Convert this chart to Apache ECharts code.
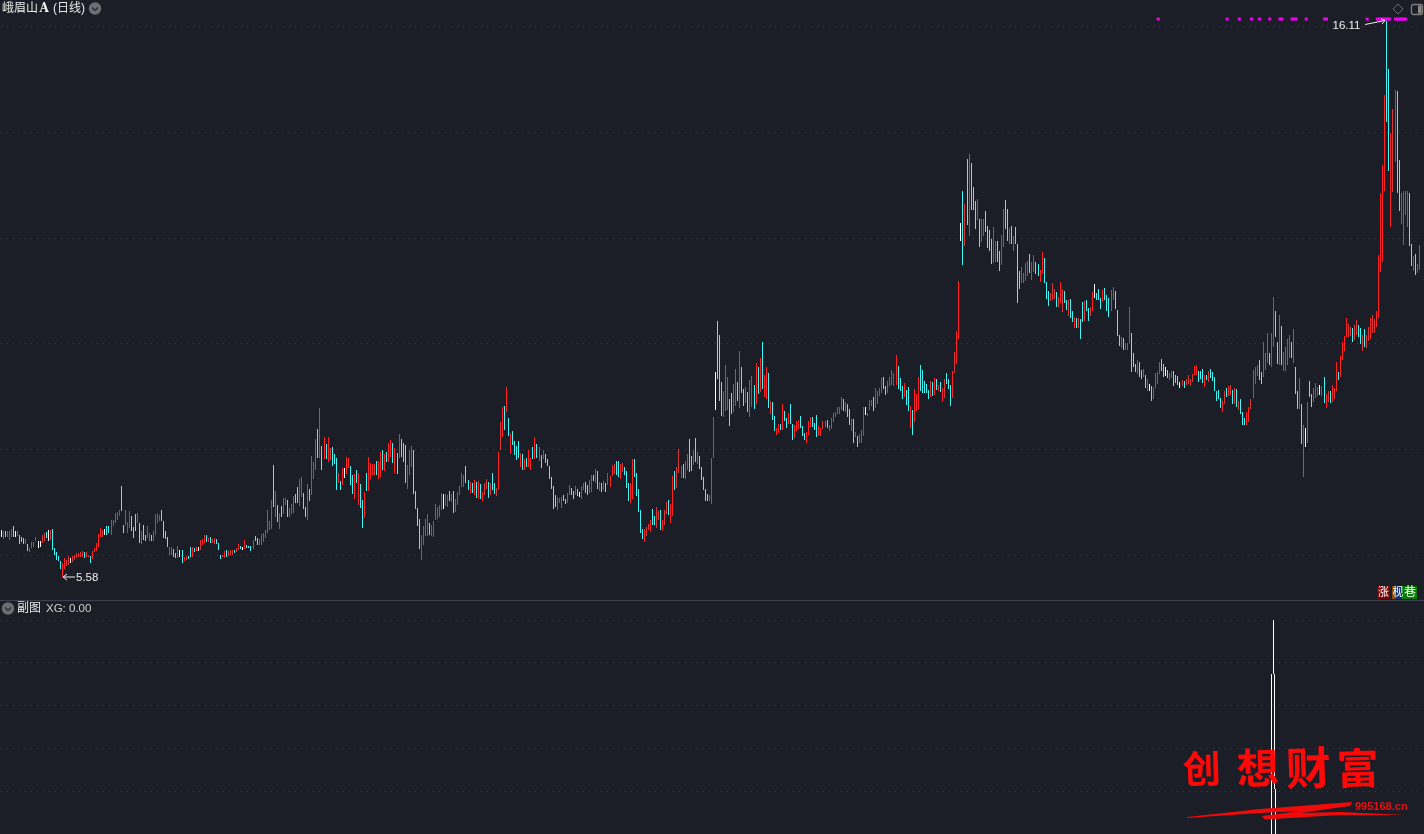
<!DOCTYPE html>
<html><head><meta charset="utf-8">
<style>html,body{margin:0;padding:0;background:#1b1e26;overflow:hidden}#c{width:1424px;height:834px}</style>
<script src="https://cdn.jsdelivr.net/npm/echarts@6/dist/echarts.min.js"></script>
</head><body><div id="c"></div>
<script>
// [high, low, kind]  kind: r strong rise, d rise, c fall, w flat
const seg1=[[6.48,6.34,'w'],[6.45,6.31,'d'],[6.45,6.34,'c'],[6.45,6.35,'d'],[6.46,6.28,'d'],[6.49,6.35,'d'],[6.54,6.35,'c'],[6.45,6.34,'w'],[6.45,6.36,'d'],[6.37,6.21,'c'],[6.35,6.24,'c'],[6.32,6.21,'c'],[6.30,6.20,'d'],[6.21,6.07,'c'],[6.13,6.05,'d'],[6.25,6.14,'d'],[6.25,6.16,'d'],[6.35,6.26,'d'],[6.26,6.13,'w'],[6.26,6.16,'w'],[6.38,6.23,'d'],[6.42,6.26,'d'],[6.43,6.32,'c'],[6.48,6.27,'w'],[6.48,6.29,'d'],[6.50,6.10,'c'],[6.13,6.01,'c'],[6.05,5.91,'c'],[5.99,5.89,'c'],[5.88,5.74,'c'],[5.85,5.58,'r'],[5.95,5.74,'r'],[5.91,5.80,'d'],[5.99,5.82,'d'],[5.94,5.85,'w'],[5.99,5.86,'d'],[6.01,5.91,'d'],[6.03,5.94,'r'],[6.03,5.96,'d'],[6.05,5.96,'d'],[6.08,5.96,'d'],[6.05,5.94,'c'],[6.05,5.96,'d'],[6.01,5.96,'d'],[5.99,5.84,'c'],[6.07,5.92,'r'],[6.14,6.05,'r'],[6.23,6.07,'r'],[6.40,6.16,'r'],[6.51,6.34,'r'],[6.48,6.35,'d'],[6.49,6.38,'w'],[6.54,6.38,'c'],[6.54,6.42,'c'],[6.67,6.38,'d'],[6.67,6.54,'d'],[6.79,6.60,'d'],[6.81,6.67,'r'],[6.86,6.74,'r'],[7.31,6.83,'c'],[6.57,6.42,'c'],[6.86,6.57,'d'],[6.62,6.42,'r'],[6.83,6.51,'r'],[6.73,6.45,'c'],[6.53,6.32,'c'],[6.77,6.45,'c'],[6.79,6.60,'d'],[6.60,6.23,'c'],[6.45,6.21,'d'],[6.57,6.28,'c'],[6.38,6.26,'c'],[6.55,6.32,'d'],[6.42,6.26,'d'],[6.38,6.26,'c'],[6.45,6.26,'d'],[6.77,6.38,'r'],[6.79,6.60,'r'],[6.76,6.64,'d'],[6.86,6.64,'c'],[6.64,6.32,'c'],[6.46,6.30,'c'],[6.35,6.16,'c'],[6.15,6.00,'r'],[6.15,6.00,'d'],[6.11,5.97,'c'],[6.03,5.94,'c'],[6.18,5.94,'d'],[6.09,5.96,'w'],[6.10,5.84,'c'],[5.96,5.89,'r'],[5.99,5.90,'d'],[5.99,5.93,'c'],[6.16,5.96,'c'],[6.15,5.96,'r'],[6.13,6.05,'c'],[6.15,6.08,'r'],[6.16,6.08,'w'],[6.29,6.10,'d'],[6.30,6.19,'r'],[6.37,6.23,'r'],[6.37,6.24,'c'],[6.32,6.24,'d'],[6.34,6.23,'c'],[6.30,6.23,'d'],[6.32,6.21,'d'],[6.30,6.21,'c'],[6.23,6.09,'c'],[6.01,5.93,'c'],[6.01,5.96,'d'],[6.07,5.95,'r'],[6.09,5.97,'c'],[6.08,5.99,'d'],[6.09,6.01,'d'],[6.09,6.01,'d'],[6.10,6.03,'c'],[6.14,6.05,'d'],[6.21,6.10,'r']];
const seg2=[[6.17,6.11,'c'],[6.16,6.09,'w'],[6.28,6.11,'r'],[6.19,6.13,'c'],[6.18,6.13,'c'],[6.17,6.08,'c'],[6.28,6.11,'d'],[6.36,6.26,'c'],[6.32,6.19,'c'],[6.30,6.19,'d'],[6.40,6.19,'d'],[6.41,6.25,'d'],[6.47,6.33,'d'],[6.85,6.41,'d'],[6.65,6.47,'d'],[7.04,6.50,'d'],[7.70,6.91,'c'],[7.21,6.72,'d'],[6.95,6.63,'c'],[6.79,6.50,'d'],[6.93,6.72,'c'],[7.08,6.77,'d'],[7.08,6.95,'d'],[7.04,6.72,'c'],[6.89,6.71,'d'],[6.96,6.77,'d'],[7.12,6.79,'d'],[7.15,6.98,'c'],[7.28,6.99,'c'],[7.44,6.93,'d'],[7.47,7.10,'d'],[7.18,6.88,'c'],[6.91,6.71,'c'],[7.34,6.66,'d'],[7.25,7.03,'c'],[7.87,7.13,'d'],[7.76,7.44,'d'],[8.19,7.61,'d'],[8.38,7.83,'c'],[8.78,7.83,'d'],[8.06,7.61,'c'],[8.23,7.81,'r'],[8.10,7.81,'c'],[8.23,7.76,'r'],[8.02,7.80,'d'],[8.04,7.68,'c'],[7.91,7.72,'c'],[7.83,7.23,'c'],[7.55,7.36,'d'],[7.40,7.23,'c'],[7.64,7.32,'r'],[7.64,7.46,'w'],[7.85,7.53,'r'],[7.83,7.64,'r'],[7.68,7.32,'c'],[7.51,7.15,'c'],[7.53,7.06,'r'],[7.61,7.36,'c'],[7.55,6.95,'r'],[7.34,6.89,'c'],[7.04,6.51,'c'],[7.19,6.70,'r'],[7.55,7.21,'c'],[7.85,7.21,'r'],[7.74,7.44,'r'],[7.72,7.51,'r'],[7.72,7.51,'d'],[7.78,7.51,'c'],[7.78,7.44,'r'],[7.95,7.47,'r'],[7.98,7.61,'c'],[7.91,7.59,'r'],[7.95,7.76,'c'],[8.12,7.76,'r'],[8.17,7.85,'r'],[8.12,7.74,'c'],[8.02,7.55,'r'],[7.93,7.53,'c'],[8.29,7.83,'d'],[8.19,7.85,'c'],[8.12,7.76,'c'],[8.08,7.36,'c'],[7.70,7.25,'d'],[7.98,7.51,'d'],[8.06,7.66,'d'],[7.98,7.15,'c'],[7.21,6.87,'c'],[6.89,6.55,'c'],[6.68,6.11,'c'],[6.38,5.91,'d'],[6.55,6.19,'d'],[6.68,6.36,'d'],[6.77,6.36,'d'],[6.60,6.38,'c'],[6.57,6.36,'d'],[6.64,6.34,'d'],[6.96,6.66,'d'],[6.91,6.68,'d'],[6.95,6.72,'d'],[7.17,6.85,'d'],[7.15,6.87,'w'],[7.15,6.93,'r'],[7.13,6.91,'d'],[7.21,7.02,'c'],[7.15,7.00,'d'],[7.21,6.79,'c'],[7.06,6.81,'d'],[7.19,6.95,'d'],[7.30,7.13,'d'],[7.55,7.29,'d'],[7.51,7.29,'d'],[7.68,7.36,'c'],[7.42,7.23,'c'],[7.38,7.17,'r'],[7.36,7.17,'c'],[7.42,7.13,'r'],[7.38,7.08,'c'],[7.40,7.06,'r']];
const seg3=[[7.34,7.06,'c'],[7.19,7.02,'r'],[7.36,7.14,'d'],[7.44,7.25,'d'],[7.38,7.08,'c'],[7.36,7.14,'d'],[7.55,7.23,'c'],[7.36,7.16,'c'],[7.27,7.12,'d'],[7.95,7.23,'r'],[8.52,7.99,'d'],[8.80,8.23,'r'],[8.82,8.37,'c'],[9.18,8.71,'r'],[8.59,8.25,'c'],[8.31,7.91,'r'],[8.35,8.08,'c'],[8.16,7.89,'c'],[8.06,7.80,'c'],[8.16,7.84,'c'],[7.93,7.67,'r'],[7.91,7.61,'c'],[7.82,7.61,'r'],[7.84,7.67,'c'],[7.99,7.67,'r'],[7.84,7.61,'r'],[8.04,7.82,'c'],[8.23,7.82,'r'],[8.10,7.84,'c'],[8.04,7.78,'d'],[7.89,7.65,'c'],[7.99,7.82,'d'],[7.91,7.74,'c'],[7.82,7.69,'c'],[7.69,7.44,'c'],[7.48,7.25,'c'],[7.31,6.87,'c'],[7.14,6.91,'c'],[7.10,6.85,'d'],[7.08,6.99,'d'],[7.10,6.89,'d'],[7.14,7.02,'c'],[7.06,6.97,'c'],[7.17,6.99,'d'],[7.33,7.14,'d'],[7.27,7.14,'c'],[7.21,7.06,'c'],[7.31,7.14,'d'],[7.25,7.12,'c'],[7.19,7.10,'w'],[7.31,7.06,'d'],[7.36,7.23,'d'],[7.38,7.17,'c'],[7.33,7.14,'c'],[7.42,7.17,'d'],[7.51,7.19,'d'],[7.51,7.40,'c'],[7.63,7.36,'d'],[7.59,7.25,'c'],[7.38,7.21,'d'],[7.36,7.19,'c'],[7.40,7.23,'d'],[7.36,7.19,'c'],[7.55,7.33,'r'],[7.50,7.29,'r'],[7.70,7.50,'r'],[7.72,7.53,'d'],[7.78,7.51,'c'],[7.78,7.48,'c'],[7.72,7.44,'r'],[7.74,7.57,'d'],[7.67,7.51,'c'],[7.59,7.27,'c'],[7.36,7.02,'c'],[7.36,6.99,'r'],[7.82,7.06,'r'],[7.82,7.48,'c'],[7.55,7.12,'c'],[7.25,6.82,'c'],[6.85,6.42,'c'],[6.49,6.31,'c'],[6.49,6.25,'r'],[6.53,6.36,'d'],[6.59,6.48,'d'],[6.66,6.44,'r'],[6.87,6.57,'c'],[6.74,6.57,'c'],[6.91,6.51,'d'],[6.83,6.66,'d'],[6.85,6.48,'c'],[6.66,6.46,'r'],[6.85,6.57,'d'],[7.00,6.78,'d'],[7.04,6.76,'c'],[6.97,6.61,'r'],[7.50,6.74,'r'],[7.59,7.23,'c'],[7.67,7.27,'d'],[8.01,7.55,'d'],[7.69,7.46,'d'],[7.72,7.46,'c'],[7.78,7.44,'d'],[7.91,7.61,'d'],[8.20,7.57,'c'],[7.87,7.59,'c'],[7.99,7.70,'d'],[8.21,7.76,'c'],[7.95,7.72,'d'],[7.87,7.63,'c'],[7.67,7.42,'c'],[7.48,7.23,'c'],[7.25,7.02,'c'],[7.16,7.02,'c'],[7.14,7.02,'d']];
const seg4=[[7.83,6.96,'d'],[8.61,7.83,'d'],[9.46,8.74,'w'],[10.42,9.33,'c'],[10.16,8.91,'c'],[9.27,8.63,'c'],[9.10,8.61,'d'],[9.59,8.72,'d'],[9.36,8.74,'d'],[8.95,8.44,'c'],[9.06,8.66,'c'],[9.23,8.70,'d'],[9.51,8.82,'d'],[9.27,8.91,'c'],[9.86,8.78,'d'],[9.55,9.06,'c'],[9.14,8.82,'c'],[9.17,8.87,'d'],[9.08,8.70,'c'],[9.31,8.61,'d'],[9.38,8.80,'d'],[9.21,8.76,'c'],[9.63,8.85,'r'],[9.55,9.04,'c'],[9.72,9.08,'r'],[10.03,9.14,'c'],[9.40,8.99,'r'],[9.55,8.95,'r'],[9.44,8.78,'c'],[8.91,8.66,'r'],[8.89,8.55,'c'],[8.63,8.34,'c'],[8.40,8.27,'r'],[8.48,8.31,'r'],[8.48,8.36,'c'],[8.85,8.36,'r'],[8.72,8.53,'c'],[8.59,8.40,'c'],[8.68,8.48,'r'],[8.85,8.48,'c'],[8.48,8.17,'c'],[8.46,8.21,'r'],[8.53,8.34,'r'],[8.55,8.38,'r'],[8.63,8.40,'c'],[8.44,8.25,'c'],[8.31,8.17,'c'],[8.32,8.12,'r'],[8.53,8.27,'r'],[8.61,8.42,'r'],[8.61,8.42,'c'],[8.49,8.36,'c'],[8.65,8.23,'c'],[8.44,8.25,'r'],[8.40,8.25,'r'],[8.53,8.38,'d'],[8.53,8.42,'d'],[8.55,8.40,'c'],[8.46,8.34,'d'],[8.59,8.38,'d'],[8.68,8.51,'d'],[8.70,8.61,'d'],[8.80,8.66,'d'],[8.80,8.66,'d'],[8.99,8.74,'d'],[8.95,8.72,'c'],[8.89,8.70,'d'],[8.85,8.61,'c'],[8.76,8.46,'c'],[8.57,8.34,'d'],[8.57,8.12,'c'],[8.32,8.23,'d'],[8.25,8.04,'c'],[8.29,8.12,'r'],[8.36,8.12,'d'],[8.80,8.25,'r'],[8.80,8.65,'w'],[8.68,8.63,'d'],[8.93,8.74,'d'],[8.93,8.82,'d'],[8.99,8.72,'c'],[9.16,8.78,'r'],[9.10,8.85,'d'],[9.16,9.00,'d'],[9.34,9.06,'d'],[9.36,9.14,'c'],[9.19,9.02,'c'],[9.29,9.06,'d'],[9.36,9.19,'d'],[9.50,9.21,'d'],[9.44,9.19,'r'],[9.78,9.21,'r'],[9.57,9.14,'c'],[9.34,9.10,'c'],[9.19,8.95,'c'],[9.25,8.99,'r'],[9.12,8.83,'c'],[9.17,8.72,'c'],[8.82,8.40,'r'],[8.74,8.27,'c'],[9.14,8.51,'r'],[9.04,8.72,'r'],[9.36,8.76,'r'],[9.59,9.10,'c'],[9.50,9.06,'c'],[9.29,9.06,'c'],[9.23,9.06,'c'],[9.12,8.95,'c'],[9.29,8.99,'d'],[9.27,9.00,'c'],[9.34,9.02,'r'],[9.33,9.12,'c'],[9.21,9.10,'d'],[9.27,9.08,'c'],[9.16,8.89,'r'],[9.33,8.97,'d'],[9.44,9.23,'c'],[9.33,9.14,'c'],[9.21,8.82,'c'],[9.48,8.97,'r'],[9.84,9.44,'d'],[10.23,9.61,'r'],[11.18,10.08,'r']];
const seg5=[[12.29,11.95,'w'],[12.88,11.48,'c'],[12.65,11.84,'d'],[13.50,12.25,'c'],[13.58,12.03,'d'],[13.42,12.52,'c'],[12.97,12.52,'c'],[12.69,12.16,'c'],[12.74,12.33,'d'],[12.35,11.82,'c'],[12.35,11.93,'d'],[12.35,12.03,'d'],[12.50,12.12,'c'],[12.23,11.80,'c'],[12.14,11.76,'c'],[11.97,11.50,'c'],[12.20,11.53,'d'],[11.95,11.55,'d'],[11.95,11.55,'c'],[11.76,11.38,'c'],[12.06,11.48,'d'],[12.54,11.82,'d'],[12.71,12.16,'c'],[12.54,11.95,'c'],[12.18,11.89,'d'],[12.23,11.89,'c'],[12.03,11.76,'d'],[12.21,11.89,'c'],[11.89,10.76,'c'],[11.38,11.04,'c'],[11.44,11.14,'d'],[11.34,11.14,'d'],[11.53,11.19,'d'],[11.57,11.27,'d'],[11.70,11.33,'c'],[11.55,11.21,'d'],[11.67,11.36,'d'],[11.55,11.31,'c'],[11.51,11.27,'c'],[11.40,11.17,'r'],[11.74,11.31,'r'],[11.61,11.14,'c'],[11.16,10.85,'c'],[11.00,10.72,'c'],[10.95,10.80,'d'],[11.14,10.82,'d'],[11.04,10.85,'d'],[10.97,10.70,'c'],[10.89,10.70,'d'],[11.17,10.76,'r'],[11.04,10.59,'d'],[10.99,10.76,'c'],[10.82,10.63,'c'],[10.83,10.53,'d'],[10.85,10.48,'c'],[10.61,10.40,'c'],[10.51,10.29,'r'],[10.49,10.29,'c'],[10.49,10.29,'d'],[10.46,10.08,'c'],[10.78,10.40,'c'],[10.80,10.42,'d'],[10.83,10.61,'c'],[10.68,10.42,'c'],[10.70,10.53,'d'],[10.97,10.61,'r'],[11.12,10.87,'w'],[10.95,10.82,'c'],[11.04,10.82,'c'],[10.87,10.65,'c'],[11.02,10.78,'r'],[11.06,10.82,'c'],[10.91,10.61,'c'],[10.87,10.51,'c'],[11.02,10.61,'d'],[11.08,10.82,'d'],[11.00,10.66,'c'],[10.63,10.14,'c'],[10.17,9.95,'c'],[10.12,9.91,'d'],[10.10,9.87,'c'],[10.02,9.87,'d'],[10.02,9.87,'d']];
const seg6=[[10.69,10.02,'d'],[10.20,9.46,'c'],[9.82,9.55,'c'],[9.61,9.46,'c'],[9.69,9.42,'d'],[9.65,9.36,'c'],[9.50,9.33,'c'],[9.51,9.36,'d'],[9.40,9.16,'c'],[9.33,9.10,'d'],[9.23,9.10,'w'],[9.19,8.91,'c'],[9.17,8.95,'d'],[9.44,9.16,'d'],[9.46,9.23,'d'],[9.65,9.42,'d'],[9.70,9.48,'c'],[9.61,9.36,'c'],[9.55,9.38,'w'],[9.50,9.34,'c'],[9.44,9.31,'d'],[9.48,9.34,'d'],[9.48,9.19,'c'],[9.40,9.25,'c'],[9.38,9.21,'c'],[9.27,9.16,'w'],[9.31,9.19,'d'],[9.29,9.16,'c'],[9.33,9.21,'d'],[9.40,9.23,'d'],[9.33,9.19,'d'],[9.42,9.27,'d'],[9.57,9.40,'r'],[9.59,9.40,'r'],[9.48,9.27,'c'],[9.48,9.33,'c'],[9.51,9.25,'c'],[9.40,9.17,'r'],[9.40,9.31,'c'],[9.48,9.27,'d'],[9.51,9.34,'c'],[9.46,9.29,'c'],[9.36,9.10,'c'],[9.10,8.91,'c'],[9.12,8.95,'c'],[8.97,8.78,'c'],[8.91,8.70,'r'],[9.10,8.85,'d'],[9.16,8.99,'c'],[9.19,9.00,'r'],[9.21,9.02,'d'],[9.12,8.85,'c'],[9.16,8.85,'d'],[9.14,8.80,'c'],[8.91,8.74,'d'],[8.95,8.66,'c'],[8.70,8.46,'c'],[8.59,8.46,'c'],[8.70,8.46,'r'],[8.80,8.51,'r'],[8.95,8.76,'d'],[9.50,8.97,'d'],[9.55,9.23,'d'],[9.59,9.38,'d'],[9.69,9.31,'c'],[9.46,9.23,'c'],[10.03,9.36,'d'],[9.82,9.50,'d'],[10.20,9.63,'d'],[9.82,9.59,'c'],[10.20,9.55,'d'],[10.88,9.93,'d'],[10.61,10.12,'c'],[10.03,9.61,'c'],[10.55,9.59,'d'],[10.33,9.59,'c'],[9.84,9.48,'d'],[9.93,9.48,'d'],[10.08,9.59,'d'],[10.16,9.72,'d'],[10.03,9.72,'c'],[10.27,9.63,'d'],[9.55,9.04,'c'],[9.10,8.76,'c'],[9.34,8.76,'d'],[8.85,8.10,'c'],[8.46,7.47,'d'],[8.40,8.04,'w'],[8.89,8.12,'d'],[9.29,8.99,'c'],[9.04,8.80,'c'],[9.16,8.89,'d'],[9.25,8.97,'d'],[9.17,9.00,'d'],[9.21,9.02,'w'],[9.19,9.00,'d'],[9.36,8.87,'c'],[9.04,8.78,'r'],[9.10,8.89,'d'],[9.10,8.87,'c'],[9.21,8.89,'r'],[9.16,8.95,'d'],[9.65,9.10,'r'],[9.46,9.31,'c'],[9.76,9.36,'r'],[10.03,9.69,'r'],[10.14,9.86,'r'],[10.48,10.12,'r'],[10.37,10.12,'d'],[10.31,10.14,'d'],[10.29,10.03,'c'],[10.35,10.06,'d'],[10.44,10.16,'d'],[10.35,10.12,'c'],[10.29,9.99,'c'],[10.16,9.86,'d'],[10.27,9.93,'c'],[10.16,9.91,'d'],[10.31,10.04,'d'],[10.48,10.08,'r'],[10.54,10.20,'d'],[10.46,10.20,'d'],[10.61,10.31,'r']];
const seg7=[[11.67,10.49,'r'],[12.84,11.36,'r'],[13.37,11.55,'r'],[14.71,12.89,'r'],[16.11,14.20,'c'],[15.20,13.27,'c'],[13.99,12.21,'r'],[14.43,12.86,'d'],[14.80,13.44,'d'],[14.78,12.84,'c'],[13.48,12.50,'c'],[12.84,12.27,'d'],[12.89,11.87,'d'],[12.88,12.44,'d'],[12.88,12.21,'d'],[12.84,11.84,'c'],[11.89,11.46,'c'],[11.65,11.38,'d'],[11.69,11.29,'c'],[11.51,11.33,'d'],[11.86,11.40,'d']];
const signalIdx=[570,604,610,616,620,625,630,631,636,637,638,643,652,653,673,678,679,680,681,682,683,684,687,688,689,690,691,692];
const signalLevel=16.14;
const xgIdx=627;
const xgHigh=[5.0,3.73,1.04];
const xgLow=[3.73,1.04,0];

const bars=[...seg1,...seg2,...seg3,...seg4,...seg5,...seg6,...seg7];
const colors={r:'#ff2222',d:'#d83a3a',c:'#3ff5f5',w:'#ffffff'};
const N=bars.length;
const band=2.0284, firstCol=1.49;
const gridLeft=firstCol+0.5-band/2, gridWidth=N*band;
const cats=bars.map((_,i)=>i);
const grid={color:'#3e414a',type:[1,5],width:1};
const hiddenAxis={axisLine:{show:false},axisTick:{show:false},axisLabel:{show:false}};
const bg='#1b1e26', cjk='"Liberation Sans","Noto Sans CJK SC"', lat='"Liberation Sans"';
function txt(text,x,y,size,fill,family,weight,extra){return Object.assign({type:'text',x,y,z:50,silent:true,style:{text,fill,font:(weight?weight+' ':'')+size+'px '+family,textVerticalAlign:'middle'}},extra||{});}
function chevron(cx,cy){return [
  {type:'circle',z:50,silent:true,shape:{cx,cy,r:6.2},style:{fill:'#6c6e73'}},
  {type:'polyline',z:51,silent:true,shape:{points:[[cx-3,cy-1],[cx,cy+2],[cx+3,cy-1]]},style:{stroke:'#25272c',fill:null,lineWidth:1.2}}];}
const wm='#ff0808';
const option={
  backgroundColor:bg,animation:false,
  grid:[
    {left:gridLeft,width:gridWidth,top:-0.5,height:661.25},
    {left:gridLeft,width:gridWidth,top:602.8,height:234.3}
  ],
  xAxis:[
    Object.assign({type:'category',gridIndex:0,data:cats,boundaryGap:true,splitLine:{show:false}},hiddenAxis),
    Object.assign({type:'category',gridIndex:1,data:cats,boundaryGap:true,splitLine:{show:false}},hiddenAxis)
  ],
  yAxis:[
    Object.assign({type:'value',gridIndex:0,min:4,max:16.5,interval:2,splitLine:{show:true,showMinLine:false,showMaxLine:false,lineStyle:grid}},hiddenAxis),
    Object.assign({type:'value',gridIndex:1,min:0,max:5.4,interval:1,splitLine:{show:true,showMinLine:false,showMaxLine:false,lineStyle:grid}},hiddenAxis)
  ],
  series:[
    {type:'custom',name:'K',xAxisIndex:0,yAxisIndex:0,clip:false,progressive:0,silent:true,
     data:bars.map((b,i)=>[i,b[0],b[1]]),encode:{x:0,y:[1,2]},
     renderItem(p,api){
       const a=api.coord([api.value(0),api.value(1)]),b=api.coord([api.value(0),api.value(2)]);
       const x=Math.floor(a[0]-0.5),y=Math.round(a[1]);
       return {type:'rect',shape:{x,y,width:1,height:Math.max(1,Math.round(b[1])-y)},style:{fill:colors[bars[p.dataIndex][2]]}};
     }},
    {type:'scatter',name:'signal',xAxisIndex:0,yAxisIndex:0,silent:true,symbol:'rect',symbolSize:[3,3],
     itemStyle:{color:'#f000f0',opacity:1},data:signalIdx.map(i=>[i,signalLevel])},
    {type:'custom',name:'XG',xAxisIndex:1,yAxisIndex:1,clip:true,progressive:0,silent:true,
     data:xgHigh.map((h,i)=>[xgIdx,h,xgLow[i]]),encode:{x:0,y:[1,2]},
     renderItem(p,api){
       const a=api.coord([api.value(0),api.value(1)]),b=api.coord([api.value(0),api.value(2)]);
       const off=[[0],[-1.3,1.2],[-2.2,2.2]][p.dataIndex];
       return {type:'group',children:off.map(o=>{
         const x=Math.floor(a[0]-0.5+o);
         return {type:'rect',shape:{x,y:Math.round(a[1]),width:1,height:Math.round(b[1]-a[1])},style:{fill:'#ffffff'}};
       })};
     }}
  ],
  graphic:{elements:[
    {type:'rect',z:40,silent:true,shape:{x:0,y:600,width:1424,height:1},style:{fill:'#3a404c'}},
    txt('峨眉山',2,8.5,12,'#e8e8e8',cjk),
    txt('A',39.5,8.5,12,'#f0f0f0','"DejaVu Serif"','bold'),
    txt('(日线)',53,8.5,12,'#e8e8e8',cjk),
    ...chevron(95,8.5),
    ...chevron(8,608.5),
    txt('副图',17,608.5,12,'#e8e8e8',cjk),
    txt('XG: 0.00',46,608.5,11.5,'#d0d0d0',lat),
    {type:'polygon',z:50,silent:true,shape:{points:[[1398,4],[1403,9],[1398,14],[1393,9]]},style:{fill:null,stroke:'#6a6a6a',lineWidth:1}},
    {type:'rect',z:50,silent:true,shape:{x:1411.5,y:4.5,width:11,height:10,r:2},style:{fill:null,stroke:'#808080',lineWidth:1.3}},
    {type:'rect',z:50,silent:true,shape:{x:1418,y:5.5,width:3.5,height:8},style:{fill:'#8a8a8a'}},
    // extreme labels
    {type:'polyline',z:50,silent:true,shape:{points:[[63,577],[75,577]]},style:{stroke:'#f0f0f0',lineWidth:1,fill:null}},
    {type:'polyline',z:50,silent:true,shape:{points:[[67,574],[63,577],[67,580]]},style:{stroke:'#f0f0f0',lineWidth:1,fill:null}},
    txt('5.58',76,578,11.5,'#eeeeee',lat),
    {type:'polyline',z:50,silent:true,shape:{points:[[1365,24.5],[1385,20.5]]},style:{stroke:'#f0f0f0',lineWidth:1,fill:null}},
    {type:'polyline',z:50,silent:true,shape:{points:[[1381,19],[1385,20.5],[1382,24]]},style:{stroke:'#f0f0f0',lineWidth:1,fill:null}},
    txt('16.11',1332.5,26,11.5,'#eeeeee',lat),
    // badges
    {type:'rect',z:50,silent:true,shape:{x:1377,y:586,width:13,height:13},style:{fill:'#7a0404'}},
    txt('涨',1378,592.5,11,'#ffffff',cjk),
    {type:'rect',z:50,silent:true,shape:{x:1392,y:586,width:4,height:13},style:{fill:'#8a4a08'}},
    {type:'rect',z:50,silent:true,shape:{x:1396,y:586,width:6,height:13},style:{fill:'#103070'}},
    {type:'rect',z:50,silent:true,shape:{x:1402,y:586,width:15,height:13},style:{fill:'#057a05'}},
    txt('枧',1392.5,592.5,11,'#ffffff',cjk),
    txt('巷',1404,592.5,12,'#ffffff',cjk),
    // watermark
    txt('创',1183,773,38,wm,cjk,'bold',{rotation:0.03}),
    txt('想',1237,773,42,wm,cjk,'bold',{rotation:0.03}),
    txt('财',1286,773,45,wm,cjk,'bold',{rotation:0.03}),
    txt('富',1337,773,42,wm,cjk,'bold',{rotation:0.03}),
    txt('995168.cn',1355,806.5,11,'#e01212',lat,'bold'),
    {type:'polygon',z:50,silent:true,shape:{points:[[1187,817],[1260,809],[1352,802],[1350,806],[1300,813],[1340,812],[1405,815],[1340,815],[1265,819.5],[1262,816],[1300,811],[1260,813],[1187,818]]},style:{fill:'#f00a0a'}}
  ]}
};
const chart=echarts.init(document.getElementById('c'),null,{renderer:'canvas',width:1424,height:834});
chart.setOption(option);
</script></body></html>
